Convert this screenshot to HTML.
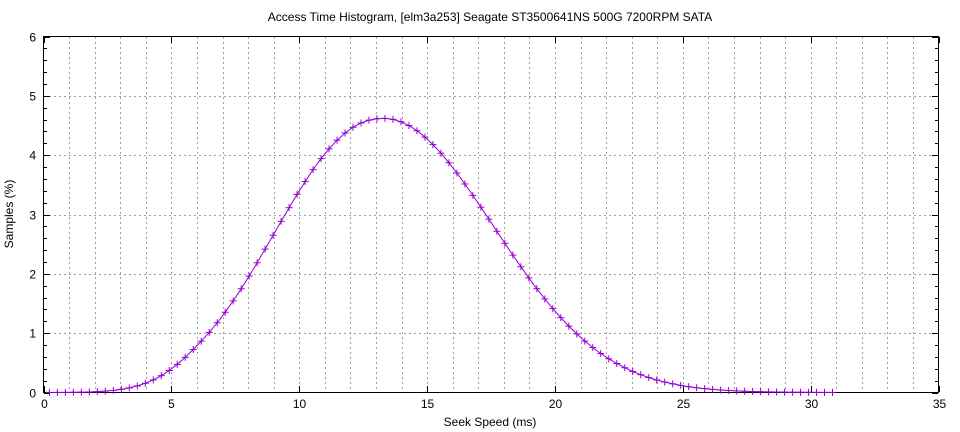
<!DOCTYPE html>
<html><head><meta charset="utf-8"><style>
html,body{margin:0;padding:0;background:#fff;}
svg{display:block;font-family:"Liberation Sans",sans-serif;}
</style></head><body>
<svg id="s" width="960" height="432" xmlns="http://www.w3.org/2000/svg">
<rect width="960" height="432" fill="#fff"/>
<g id="grid" stroke="#a0a0a0" stroke-width="1" stroke-dasharray="2,3"></g>
<rect x="43.5" y="36.5" width="895" height="356" fill="none" stroke="#000" stroke-width="1"/>
<g id="ticks" stroke="#000" stroke-width="1"></g>
<g id="labels" font-size="12" fill="#000"></g>
<text x="490" y="21" font-size="12" text-anchor="middle">Access Time Histogram, [elm3a253] Seagate ST3500641NS 500G 7200RPM SATA</text>
<text x="490" y="426" font-size="12" text-anchor="middle">Seek Speed (ms)</text>
<text transform="translate(13,214) rotate(-90)" font-size="12" text-anchor="middle">Samples (%)</text>
<polyline id="line" fill="none" stroke="#9400d3" stroke-width="1"/>
<g id="pts" stroke="#9400d3" stroke-width="1"></g>
</svg>
<script>
const NS="http://www.w3.org/2000/svg";
const X=v=>43.5+v*895/35, Y=v=>392.5-v*356/6;
function el(p,t,a,txt){const e=document.createElementNS(NS,t);for(const k in a)e.setAttribute(k,a[k]);if(txt!=null)e.textContent=txt;document.getElementById(p).appendChild(e);}
for(let i=1;i<35;i++){const x=Math.round(X(i))+.5;el("grid","line",{x1:x,x2:x,y1:37,y2:392});}
for(let j=1;j<6;j++){const y=Math.round(Y(j))+.5;el("grid","line",{x1:44,x2:938,y1:y,y2:y});}
for(let i=0;i<=35;i+=5){const x=Math.round(X(i))+.5;el("ticks","line",{x1:x,x2:x,y1:392,y2:386});el("ticks","line",{x1:x,x2:x,y1:37,y2:43});el("labels","text",{x:x,y:408,"text-anchor":"middle"},String(i));}
for(let j=0;j<=30;j++){const v=j/5;const y=Math.round(Y(v))+.5;const L=(j%5==0)?6:3;el("ticks","line",{x1:44,x2:44+L,y1:y,y2:y});el("ticks","line",{x1:938,x2:938-L,y1:y,y2:y});if(j%5==0)el("labels","text",{x:36,y:y+4,"text-anchor":"end"},String(v));}
function f(x){const m=13.3,A=4.62;const d=x-m;
 if(d>=0){const s=4.3;return A*Math.exp(-d*d/(2*s*s));}
 const a=-d;let l=Math.pow(a,2.2)/45;const e=Math.max(0,a-7);l+=0.07*e*e;return A*Math.exp(-l);}
let pts=[];for(let k=0;k<99;k++){const x=0.23+k*0.3125;pts.push([X(x),Y(f(x))]);}
document.getElementById("line").setAttribute("points",pts.map(p=>p[0].toFixed(1)+","+p[1].toFixed(1)).join(" "));
for(const p of pts){el("pts","line",{x1:p[0]-3.5,x2:p[0]+3.5,y1:p[1],y2:p[1]});el("pts","line",{x1:p[0],x2:p[0],y1:p[1]-3.5,y2:p[1]+3.5});}
</script>
</body></html>
